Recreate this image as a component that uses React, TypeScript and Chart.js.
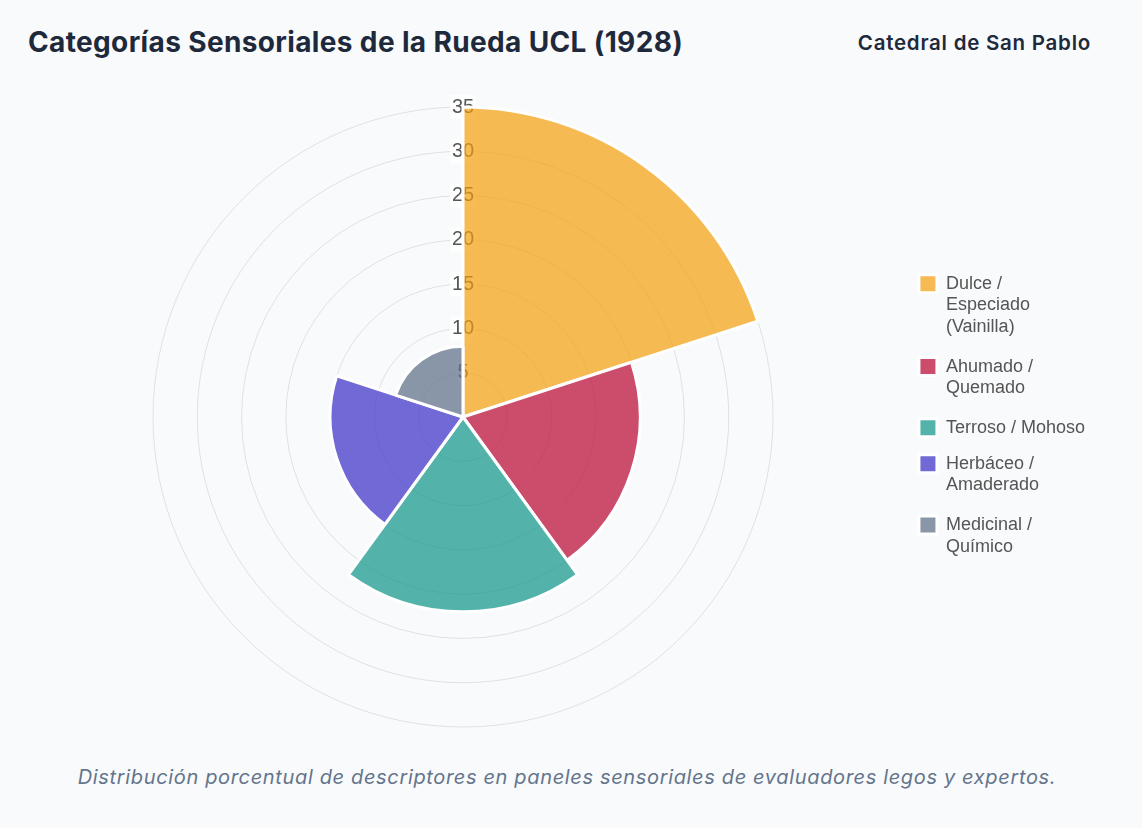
import React, { useEffect, useRef } from 'react';
import Chart from 'chart.js/auto';

const categories: (string | string[])[] = [
  ['Dulce /', 'Especiado', '(Vainilla)'],
  ['Ahumado /', 'Quemado'],
  'Terroso / Mohoso',
  ['Herbáceo /', 'Amaderado'],
  ['Medicinal /', 'Químico'],
];
const shares = [35, 20, 22, 15, 8];
const sliceColors = [
  'rgba(245, 158, 11, 0.7)',
  'rgba(190, 18, 60, 0.75)',
  'rgba(13, 148, 136, 0.7)',
  'rgba(67, 56, 202, 0.75)',
  'rgba(100, 116, 139, 0.75)',
];
const tickStep = 5;
const tickMax = 35;

const SensoryWheel: React.FC = () => {
  const canvasRef = useRef<HTMLCanvasElement>(null);
  const chartRef = useRef<Chart | null>(null);

  useEffect(() => {
    if (!canvasRef.current) return;
    if (chartRef.current) chartRef.current.destroy();
    const ctx = canvasRef.current.getContext('2d');
    if (!ctx) return;

    chartRef.current = new Chart(ctx, {
      type: 'polarArea',
      data: {
        labels: categories as any,
        datasets: [
          {
            data: shares,
            backgroundColor: sliceColors,
            borderColor: '#ffffff',
            borderWidth: 3,
          },
        ],
      },
      options: {
        responsive: true,
        maintainAspectRatio: false,
        animation: false,
        plugins: {
          legend: {
            position: 'right',
            labels: {
              boxWidth: 18,
              boxHeight: 18,
              padding: 18,
              color: '#555',
              font: { family: "'Liberation Sans', Arial, sans-serif", size: 18 },
            },
          },
          tooltip: { enabled: false },
        },
        scales: {
          r: {
            min: 0,
            max: tickMax,
            ticks: {
              stepSize: tickStep,
              color: '#555',
              font: { family: "'Liberation Sans', Arial, sans-serif", size: 20 },
              backdropColor: 'rgba(255, 255, 255, 0.75)',
              backdropPadding: 2,
            },
            grid: { color: 'rgba(0, 0, 0, 0.1)' },
            pointLabels: { display: false },
            angleLines: { display: false },
          },
        },
      },
    });

    return () => {
      if (chartRef.current) {
        chartRef.current.destroy();
        chartRef.current = null;
      }
    };
  }, []);

  return (
    <div style={{ position: 'absolute', left: 26, top: 95, width: 1069, height: 644 }}>
      <canvas ref={canvasRef} />
    </div>
  );
};

export default function App() {
  useEffect(() => {
    document.body.style.margin = '0';
    document.body.style.background = '#f8fafc';
  }, []);

  return (
    <div
      style={{
        position: 'relative',
        width: 1142,
        height: 828,
        background: '#f8fafc',
        fontFamily: "Inter, 'Liberation Sans', sans-serif",
        overflow: 'hidden',
      }}
    >
      <div
        style={{
          position: 'absolute',
          left: 28,
          top: 25,
          fontSize: 28,
          lineHeight: '34px',
          fontWeight: 700,
          color: '#1e293b',
          letterSpacing: '0.36px',
          whiteSpace: 'nowrap',
        }}
      >
        Categorías Sensoriales de la Rueda UCL (1928)
      </div>
      <div
        style={{
          position: 'absolute',
          right: 51,
          top: 30,
          fontSize: 20.5,
          lineHeight: '26px',
          fontWeight: 600,
          color: '#1e293b',
          letterSpacing: '0.75px',
          whiteSpace: 'nowrap',
        }}
      >
        Catedral de San Pablo
      </div>
      <SensoryWheel />
      <div
        style={{
          position: 'absolute',
          left: 0,
          width: 1134,
          top: 764,
          textAlign: 'center',
          fontSize: 20,
          lineHeight: '26px',
          fontStyle: 'italic',
          color: '#64748b',
          letterSpacing: '0.65px',
          whiteSpace: 'nowrap',
        }}
      >
        Distribución porcentual de descriptores en paneles sensoriales de evaluadores legos y expertos.
      </div>
    </div>
  );
}
